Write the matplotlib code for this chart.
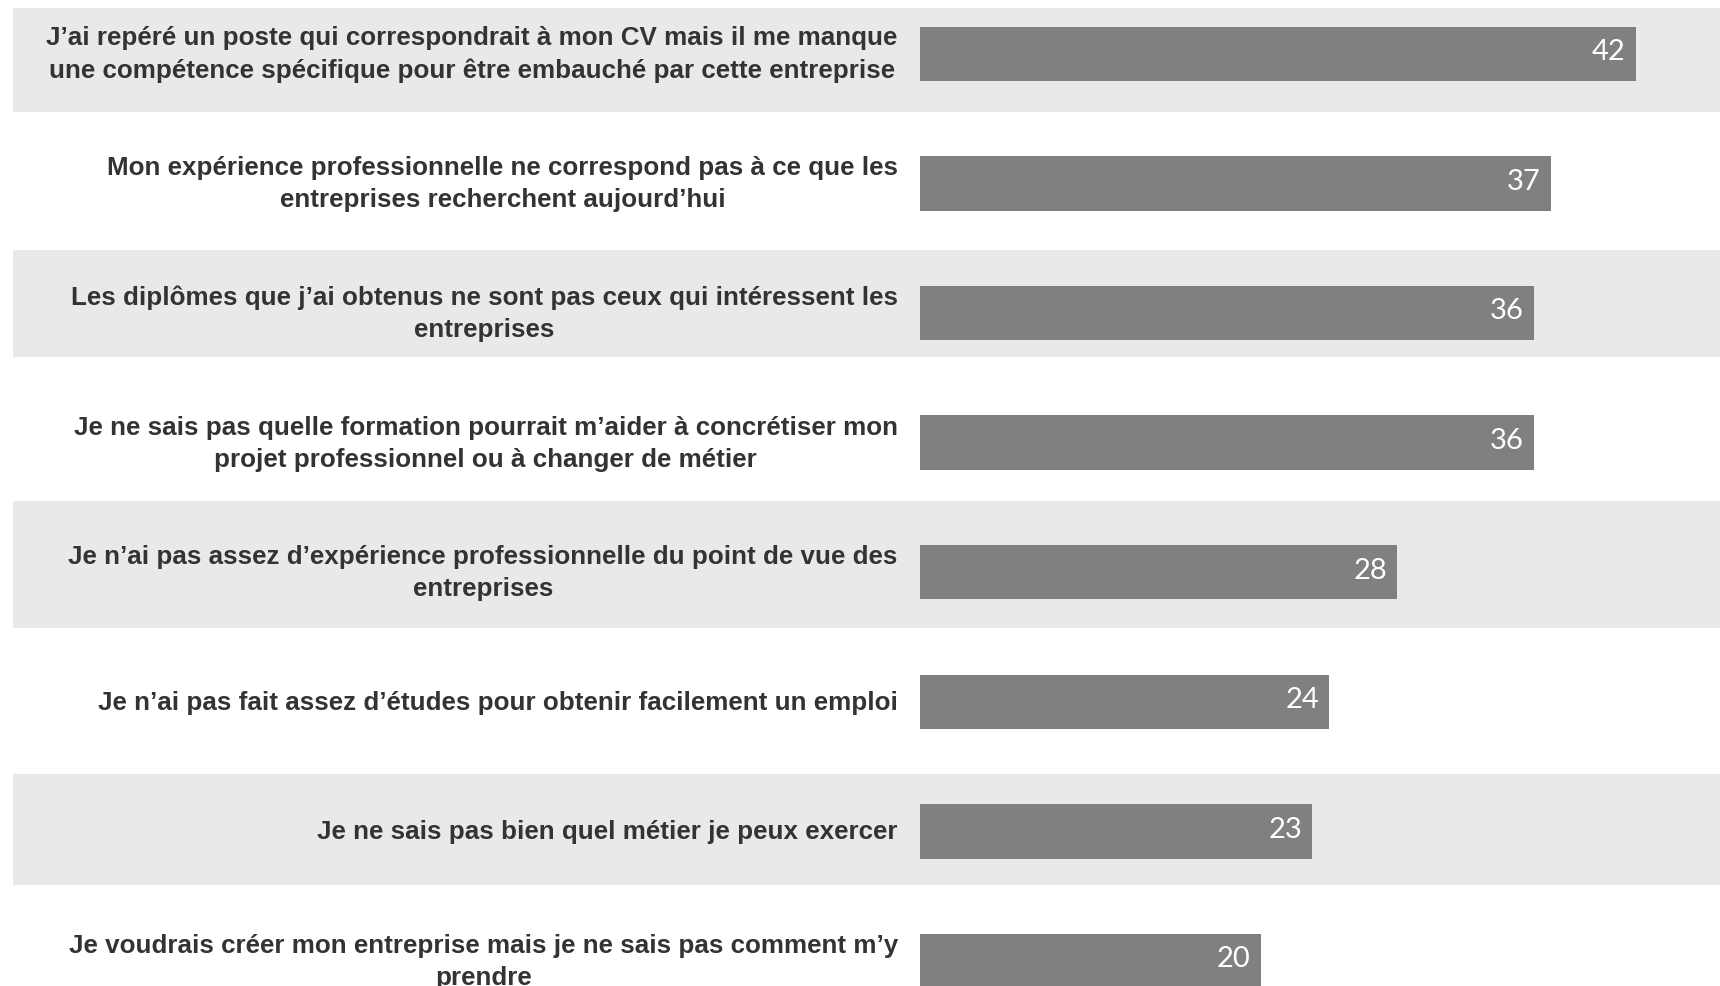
import numpy as np
import matplotlib.pyplot as plt

labels = [
    "J\u2019ai repéré un poste qui correspondrait à mon CV mais il me manque\nune compétence spécifique pour être embauché par cette entreprise",
    "Mon expérience professionnelle ne correspond pas à ce que les\nentreprises recherchent aujourd\u2019hui",
    "Les diplômes que j\u2019ai obtenus ne sont pas ceux qui intéressent les\nentreprises",
    "Je ne sais pas quelle formation pourrait m\u2019aider à concrétiser mon\nprojet professionnel ou à changer de métier",
    "Je n\u2019ai pas assez d\u2019expérience professionnelle du point de vue des\nentreprises",
    "Je n\u2019ai pas fait assez d\u2019études pour obtenir facilement un emploi",
    "Je ne sais pas bien quel métier je peux exercer",
    "Je voudrais créer mon entreprise mais je ne sais pas comment m\u2019y\nprendre",
]
values = [42, 37, 36, 36, 28, 24, 23, 20]

fig = plt.figure(figsize=(17.2, 9.87), dpi=100)
ax = fig.add_axes([0, 0, 1, 1])
ax.set_xlim(-53.96, 46.92)
ax.set_ylim(7.193, -0.423)
ax.axis("off")

# grey bands behind every other row (they are not all the same height)
band_spans = {0: (-0.35, 0.45), 2: (-0.49, 0.34), 4: (-0.55, 0.43), 6: (-0.44, 0.41)}
for i, (lo, hi) in band_spans.items():
    ax.fill_between([-53.2, 46.92], i + lo, i + hi, color="#e9e9e9", lw=0, zorder=0)

y = np.arange(len(values))
ax.barh(y, values, height=0.42, color="#808080", zorder=2)

for i, (lab, v) in enumerate(zip(labels, values)):
    ax.text(-1.3, i, lab, ha="right", va="center", multialignment="center",
            fontsize=18.7, fontweight="bold", color="#333333",
            family="Liberation Sans", linespacing=1.42)
    ax.text(v - 0.6, i - 0.02, str(v), ha="right", va="center",
            fontsize=21, color="white", family="Lato")

fig.savefig("out.png", dpi=100)
